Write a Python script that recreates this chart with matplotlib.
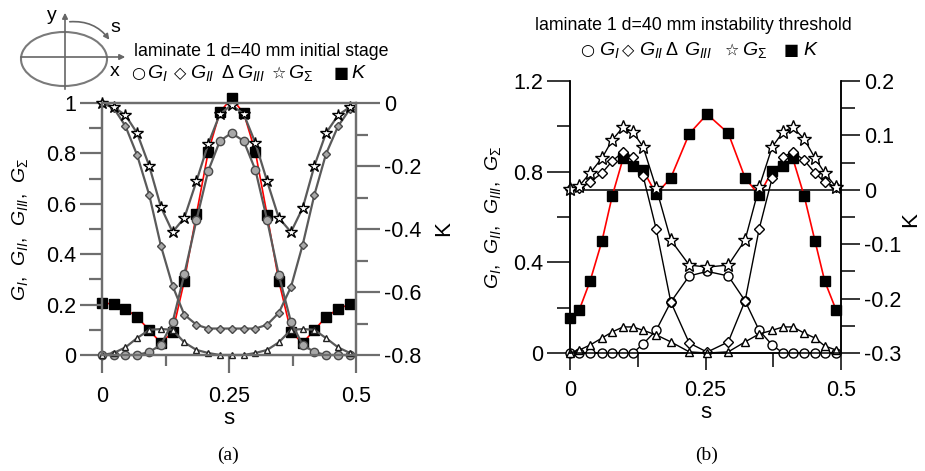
import matplotlib
matplotlib.use('Agg')
import matplotlib.pyplot as plt
from matplotlib import font_manager
from matplotlib.patches import Ellipse
from matplotlib.ticker import FixedLocator

# ---------------- data ----------------
# panel (a): initial stage
s_a = [0.0, 0.023, 0.046, 0.069, 0.093, 0.116, 0.139, 0.162, 0.186, 0.209, 0.232,
       0.255, 0.279, 0.302, 0.325, 0.348, 0.372, 0.395, 0.418, 0.441, 0.465, 0.488]
GI_a = [0, 0, 0, 0, 0.012, 0.04, 0.13, 0.32, 0.536, 0.73, 0.849,
        0.881, 0.849, 0.734, 0.536, 0.317, 0.131, 0.04, 0.012, 0, 0, 0]
GII_a = [1.0, 0.98, 0.909, 0.794, 0.635, 0.433, 0.274, 0.16, 0.12, 0.105, 0.105,
         0.105, 0.105, 0.105, 0.12, 0.167, 0.27, 0.437, 0.635, 0.798, 0.909, 0.976]
GIII_a = [0, 0.008, 0.03, 0.067, 0.1, 0.103, 0.1, 0.05, 0.02, 0.008, 0,
          0, 0, 0.008, 0.02, 0.05, 0.1, 0.103, 0.1, 0.067, 0.03, 0.008]
GS_a = [1.0, 0.984, 0.952, 0.881, 0.75, 0.587, 0.488, 0.544, 0.69, 0.837, 0.956,
        0.992, 0.956, 0.841, 0.69, 0.544, 0.488, 0.583, 0.75, 0.881, 0.952, 0.984]
K_a = [-0.635, -0.638, -0.654, -0.679, -0.721, -0.762, -0.727, -0.565, -0.352, -0.156, -0.029,
       0.015, -0.032, -0.156, -0.355, -0.565, -0.727, -0.762, -0.721, -0.679, -0.654, -0.638]

# panel (b): instability threshold
s_b = [0.0, 0.017, 0.037, 0.059, 0.078, 0.098, 0.116, 0.135, 0.159, 0.186, 0.220,
       0.253, 0.292, 0.323, 0.349, 0.373, 0.393, 0.411, 0.432, 0.452, 0.470, 0.491]
GI_b = [0, 0, 0, 0, 0, 0, 0, 0.04, 0.10, 0.225, 0.34,
        0.36, 0.34, 0.23, 0.10, 0.035, 0, 0, 0, 0, 0, 0]
GII_b = [0.723, 0.728, 0.754, 0.794, 0.847, 0.887, 0.865, 0.78, 0.547, 0.225, 0.044,
         0.004, 0.049, 0.23, 0.547, 0.772, 0.865, 0.887, 0.851, 0.794, 0.754, 0.732]
GIII_b = [0, 0.013, 0.035, 0.066, 0.093, 0.115, 0.115, 0.10, 0.08, 0.049, 0.005,
          0, 0.005, 0.049, 0.084, 0.10, 0.115, 0.115, 0.088, 0.066, 0.031, 0.013]
GS_b = [0.723, 0.737, 0.794, 0.860, 0.940, 0.997, 0.975, 0.909, 0.728, 0.498, 0.388,
        0.379, 0.388, 0.498, 0.732, 0.909, 0.975, 0.997, 0.944, 0.860, 0.794, 0.732]
K_b = [-0.236, -0.221, -0.168, -0.094, -0.011, 0.058, 0.044, 0.036, -0.008, 0.022, 0.103,
       0.139, 0.104, 0.022, -0.010, 0.035, 0.044, 0.058, -0.011, -0.094, -0.168, -0.221]

x_ticks = [0, 0.25, 0.5]
x_ticklabels = ['0', '0.25', '0.5']
ya_ticks = [0, 0.2, 0.4, 0.6, 0.8, 1.0]
ya_ticklabels = ['0', '0.2', '0.4', '0.6', '0.8', '1']
ka_ticks = [0, -0.2, -0.4, -0.6, -0.8]
ka_ticklabels = ['0', '-0.2', '-0.4', '-0.6', '-0.8']
yb_ticks = [0, 0.4, 0.8, 1.2]
yb_ticklabels = ['0', '0.4', '0.8', '1.2']
kb_ticks = [0.2, 0.1, 0, -0.1, -0.2, -0.3]
kb_ticklabels = ['0.2', '0.1', '0', '-0.1', '-0.2', '-0.3']

title_a = 'laminate 1 d=40 mm initial stage'
title_b = 'laminate 1 d=40 mm instability threshold'
ylabel_txt = r'$G_I$,  $G_{II}$,  $G_{III}$,  $G_\Sigma$'

# ---------------- style ----------------
plt.rcParams['font.family'] = ['Liberation Sans', 'DejaVu Sans']
plt.rcParams['mathtext.fontset'] = 'custom'
plt.rcParams['mathtext.rm'] = 'Liberation Sans'
plt.rcParams['mathtext.it'] = 'Liberation Sans:italic'
plt.rcParams['mathtext.bf'] = 'Liberation Sans:bold'
plt.rcParams['axes.unicode_minus'] = False

names = {f.name for f in font_manager.fontManager.ttflist}
if 'Liberation Sans Narrow' in names:
    TFAM, TSIZE = ['Liberation Sans Narrow', 'DejaVu Sans'], 15.0
else:
    TFAM, TSIZE = ['Liberation Sans', 'DejaVu Sans'], 12.8

W, H = 925, 471
fig = plt.figure(figsize=(W / 100, H / 100), dpi=100)


def fx(x):
    return x / W


def fy(y):
    return 1 - y / H


# overlay for the inset sketch
ov = fig.add_axes([0, 0, 1, 1])
ov.set_xlim(0, W)
ov.set_ylim(H, 0)
ov.axis('off')
ov.add_patch(Ellipse((64, 59), 86, 54, fill=False, ec='#7a7a7a', lw=1.5))
ov.annotate('', xy=(128, 57), xytext=(18, 57),
            arrowprops=dict(arrowstyle='-|>', color='#666666', lw=1.2, mutation_scale=8))
ov.annotate('', xy=(65, 10), xytext=(65, 92),
            arrowprops=dict(arrowstyle='-|>', color='#666666', lw=1.2, mutation_scale=8))
ov.annotate('', xy=(111, 42), xytext=(67, 22),
            arrowprops=dict(arrowstyle='-|>', color='#666666', lw=1.2, mutation_scale=8,
                            connectionstyle='arc3,rad=-0.3'))
ov.text(52, 16, 'y', fontsize=14, ha='center', va='center')
ov.text(115, 72, 'x', fontsize=14, ha='center', va='center')
ov.text(115, 27, 's', fontsize=14, ha='center', va='center')

TL = 15.5  # tick label size
SYMF = ['DejaVu Sans', 'Liberation Sans']

# ---------------- panel (a) ----------------
axa = fig.add_axes([fx(102), fy(355), (356 - 102) / W, (355 - 103) / H])
ka = axa.twinx()
ka.set_zorder(axa.get_zorder() - 1)
axa.set_zorder(ka.get_zorder() + 1)
axa.patch.set_visible(False)

gcol = '#5a5a5a'
axa.plot(s_a, GI_a, '-', color=gcol, lw=1.6, marker='o', ms=6, mfc='#a8a8a8', mec='#4a4a4a', mew=1, clip_on=False)
axa.plot(s_a, GII_a, '-', color=gcol, lw=1.6, marker='D', ms=4.5, mfc='#a8a8a8', mec='#4a4a4a', mew=1, clip_on=False)
axa.plot(s_a, GIII_a, '-', color=gcol, lw=1.6, marker='^', ms=4.5, mfc='white', mec='#222222', mew=1, clip_on=False)
axa.plot(s_a, GS_a, '-', color=gcol, lw=1.6, marker='*', ms=9, mfc='white', mec='black', mew=1.0, clip_on=False)
ka.plot(s_a, K_a, '-', color='red', lw=1.2, marker='s', ms=6.5, mfc='black', mec='black', clip_on=False)

axa.set_xlim(0, 0.5)
axa.set_ylim(0, 1)
ka.set_ylim(-0.8, 0)
acol = '#6e6e6e'
for ax in (axa, ka):
    for sp in ax.spines.values():
        sp.set_color(acol)
        sp.set_linewidth(1.6)
axa.set_xticks(x_ticks)
axa.set_xticklabels(x_ticklabels)
axa.xaxis.set_minor_locator(FixedLocator([0.125, 0.375]))
axa.set_yticks(ya_ticks)
axa.set_yticklabels(ya_ticklabels)
axa.yaxis.set_minor_locator(FixedLocator([0.1, 0.3, 0.5, 0.7, 0.9]))
ka.set_yticks(ka_ticks)
ka.set_yticklabels(ka_ticklabels)
ka.yaxis.set_minor_locator(FixedLocator([-0.1, -0.3, -0.5, -0.7]))
axa.tick_params(axis='y', which='major', direction='out', length=15.8, width=1.6, color=acol, pad=3, labelsize=TL)
axa.tick_params(axis='y', which='minor', direction='out', length=9.4, width=1.6, color=acol)
axa.tick_params(axis='x', which='major', direction='out', length=13, width=1.6, color=acol, pad=9.5, labelsize=TL)
axa.tick_params(axis='x', which='minor', direction='out', length=8, width=1.6, color=acol)
ka.tick_params(axis='y', which='major', direction='out', length=17, width=1.6, color=acol, pad=3, labelsize=TL)
ka.tick_params(axis='y', which='minor', direction='out', length=8.6, width=1.6, color=acol)

fig.text(fx(20), fy(229), ylabel_txt, rotation=90, ha='center', va='center', fontsize=14)
fig.text(fx(444), fy(229), 'K', rotation=90, ha='center', va='center', fontsize=16)
fig.text(fx(229), fy(418), 's', ha='center', va='center', fontsize=16)
fig.text(fx(228), fy(455), '(a)', ha='center', va='center', fontsize=14, family='Liberation Serif')

fig.text(fx(134), fy(56), title_a, ha='left', va='baseline', fontsize=TSIZE, family=TFAM)
leg_a = [(138, '○', 147, r'$G_I$'), (180, '◇', 190, r'$G_{II}$'), (228, 'Δ', 237, r'$G_{III}$'),
         (279, '☆', 288, r'$G_\Sigma$'), (341, '■', 351, r'$K$')]
for xs, sym, xl, lab in leg_a:
    if sym == 'Δ':
        fam, fs = ['Liberation Sans', 'DejaVu Sans'], 13
    else:
        fam, fs = SYMF, 11.5
    fig.text(fx(xs), fy(78), sym, ha='center', va='baseline', fontsize=fs, family=fam)
    fig.text(fx(xl), fy(78), lab, ha='left', va='baseline', fontsize=14)

# ---------------- panel (b) ----------------
axb = fig.add_axes([fx(570), fy(353), (841 - 570) / W, (353 - 81) / H])
kb = axb.twinx()
kb.set_zorder(axb.get_zorder() - 1)
axb.set_zorder(kb.get_zorder() + 1)
axb.patch.set_visible(False)

kb.axhline(0, color='black', lw=1.1)
axb.plot(s_b, GI_b, '-', color='black', lw=1.0, marker='o', ms=6.5, mfc='white', mec='black', mew=1, clip_on=False)
axb.plot(s_b, GII_b, '-', color='black', lw=1.0, marker='D', ms=5, mfc='white', mec='black', mew=1, clip_on=False)
axb.plot(s_b, GIII_b, '-', color='black', lw=1.0, marker='^', ms=5.5, mfc='white', mec='black', mew=1, clip_on=False)
axb.plot(s_b, GS_b, '-', color='black', lw=1.0, marker='*', ms=10, mfc='white', mec='black', mew=1.0, clip_on=False)
kb.plot(s_b, K_b, '-', color='red', lw=1.2, marker='s', ms=7.5, mfc='black', mec='black', clip_on=False)

axb.set_xlim(0, 0.5)
axb.set_ylim(0, 1.2)
kb.set_ylim(-0.3, 0.2)
for ax in (axb, kb):
    ax.spines['top'].set_visible(False)
    for sp in ax.spines.values():
        sp.set_linewidth(1.1)
axb.set_xticks(x_ticks)
axb.set_xticklabels(x_ticklabels)
axb.xaxis.set_minor_locator(FixedLocator([0.125, 0.375]))
axb.set_yticks(yb_ticks)
axb.set_yticklabels(yb_ticklabels)
axb.yaxis.set_minor_locator(FixedLocator([0.2, 0.6, 1.0]))
kb.set_yticks(kb_ticks)
kb.set_yticklabels(kb_ticklabels)
kb.yaxis.set_minor_locator(FixedLocator([0.15, 0.05, -0.05, -0.15, -0.25]))
axb.tick_params(axis='y', which='major', direction='out', length=16.5, width=1.1, pad=3, labelsize=TL)
axb.tick_params(axis='y', which='minor', direction='out', length=9.4, width=1.1)
axb.tick_params(axis='x', which='major', direction='out', length=12.2, width=1.1, pad=7, labelsize=TL)
axb.tick_params(axis='x', which='minor', direction='out', length=10, width=1.1)
kb.tick_params(axis='y', which='major', direction='out', length=13.7, width=1.1, pad=3, labelsize=TL)
kb.tick_params(axis='y', which='minor', direction='out', length=10, width=1.1)

fig.text(fx(493), fy(217), ylabel_txt, rotation=90, ha='center', va='center', fontsize=14)
fig.text(fx(911), fy(220), 'K', rotation=90, ha='center', va='center', fontsize=16)
fig.text(fx(706), fy(413), 's', ha='center', va='center', fontsize=16)
fig.text(fx(707), fy(455), '(b)', ha='center', va='center', fontsize=14, family='Liberation Serif')

fig.text(fx(693), fy(30), title_b, ha='center', va='baseline', fontsize=TSIZE, family=TFAM)
leg_b = [(587, '○', 599, r'$G_I$'), (628, '◇', 639, r'$G_{II}$'), (672, 'Δ', 684, r'$G_{III}$'),
         (732, '☆', 742, r'$G_\Sigma$'), (791, '■', 803, r'$K$')]
for xs, sym, xl, lab in leg_b:
    if sym == 'Δ':
        fam, fs = ['Liberation Sans', 'DejaVu Sans'], 13
    else:
        fam, fs = SYMF, 11.5
    fig.text(fx(xs), fy(55), sym, ha='center', va='baseline', fontsize=fs, family=fam)
    fig.text(fx(xl), fy(55), lab, ha='left', va='baseline', fontsize=14)

fig.savefig('out.png', dpi=100)
